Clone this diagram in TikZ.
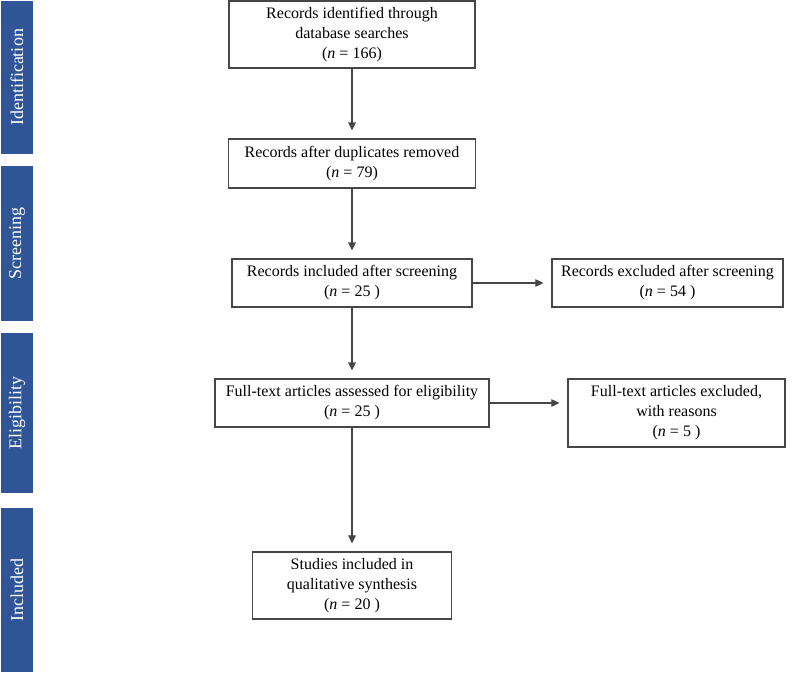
\documentclass[tikz,border=0pt]{standalone}
\usepackage{fontspec}
\setmainfont{Liberation Serif}
\usepackage{tikz}
\usetikzlibrary{arrows.meta}
\definecolor{barblue}{RGB}{47,85,151}
\definecolor{linegray}{RGB}{70,70,70}

\tikzset{
  box/.style={draw=linegray, line width=1.2pt, align=center, inner sep=0pt,
    font=\fontsize{16pt}{20pt}\selectfont},
  bar/.style={fill=barblue, text=white, rotate=90, inner sep=0pt,
    minimum height=32pt, font=\fontsize{18pt}{20pt}\selectfont},
  arr/.style={draw=linegray, line width=1.1pt, -{Triangle[length=8pt,width=7.5pt]}, shorten >=8pt}
}

\begin{document}
\begin{tikzpicture}[x=1pt,y=-1pt]
        \useasboundingbox (0,0) rectangle (797,672);
        % Phases
        \node[bar, minimum width=153pt] (phid) at (17,77.5) {Identification};
        \node[bar, minimum width=155pt] (phscr) at (17,243.5) {Screening};
        \node[bar, minimum width=160pt] (phel) at (17,413) {Eligibility};
        \node[bar, minimum width=164pt] (phin) at (17,590) {Included};
        % Main column
        \node[box, minimum width=246pt, minimum height=67pt] (ident) at (352,34.5)
            {Records identified through\\database searches\\(\textit{n} = 166)};
        \node[box, minimum width=247pt, minimum height=49pt] (dupl) at (352,163.5)
            {Records after duplicates removed\\(\textit{n} = 79)};
        \node[box, minimum width=240pt, minimum height=48pt] (screen) at (352,283)
            {Records included after screening\\(\textit{n} = 25 )};
        \node[box, minimum width=274pt, minimum height=48pt] (elig) at (352,403)
            {Full-text articles assessed for eligibility\\(\textit{n} = 25 )};
        \node[box, minimum width=199pt, minimum height=67pt] (incl) at (352,585.5)
            {Studies included in\\qualitative synthesis\\(\textit{n} = 20 )};
        % Exclusions
        \node[box, minimum width=231pt, minimum height=48pt] (screx) at (667.5,283)
            {Records excluded after screening\\(\textit{n} = 54 )};
        \node[box, minimum width=217pt, minimum height=68pt] (eligex) at (676.5,413)
            {Full-text articles excluded,\\with reasons\\(\textit{n} = 5 )};
        % Arrows
        \draw[arr] (ident) -- (dupl);
        \draw[arr] (dupl) -- (screen);
        \draw[arr] (screen) -- (elig);
        \draw[arr] (elig) -- (incl);
        \draw[arr] (screen) -- (screx);
        \draw[arr] (elig.east) -- (elig.east -| eligex.west);
\end{tikzpicture}
\end{document}
